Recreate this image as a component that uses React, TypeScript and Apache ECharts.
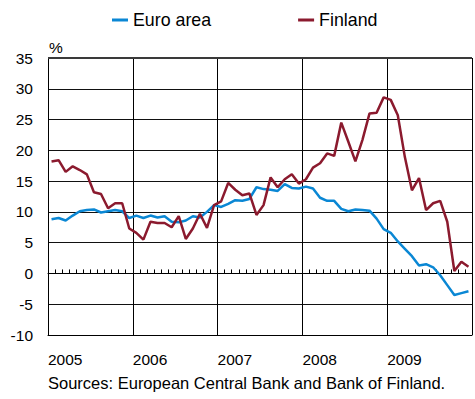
import React, { useEffect, useRef } from "react";
import * as echarts from "echarts";

const years = ["2005", "2006", "2007", "2008", "2009"];
const monthCodes = ["01", "02", "03", "04", "05", "06", "07", "08", "09", "10", "11", "12"];
const months = years.flatMap((y) => monthCodes.map((m) => `${y}-${m}`));

const euroArea = [
  8.8, 9.0, 8.6, 9.4, 10.1, 10.3, 10.4, 9.9, 10.1, 10.3, 10.1, 9.0,
  9.4, 9.0, 9.4, 9.1, 9.3, 8.4, 8.3, 8.6, 9.3, 9.1, 10.0, 11.1,
  10.8, 11.3, 11.9, 11.8, 12.1, 14.0, 13.7, 13.6, 13.4, 14.5, 13.9, 13.8,
  14.1, 13.8, 12.3, 11.8, 11.8, 10.5, 10.1, 10.4, 10.3, 10.2, 8.9, 7.2,
  6.6, 5.2, 4.0, 2.8, 1.3, 1.5, 1.0, -0.3, -1.9, -3.5, -3.2, -2.9,
];

const finland = [
  18.2, 18.4, 16.5, 17.4, 16.8, 16.1, 13.2, 12.9, 10.6, 11.4, 11.4, 7.3,
  6.6, 5.5, 8.4, 8.2, 8.2, 7.5, 9.3, 5.6, 7.3, 9.7, 7.4, 11.1,
  11.7, 14.7, 13.6, 12.7, 13.0, 9.5, 11.1, 15.6, 14.0, 15.3, 16.1, 14.6,
  15.3, 17.2, 17.9, 19.5, 19.1, 24.5, 21.4, 18.2, 21.7, 26.0, 26.1, 28.6,
  28.2, 25.7, 18.9, 13.5, 15.5, 10.3, 11.4, 11.8, 8.4, 0.4, 1.9, 1.1,
];

const yMin = -10;
const yMax = 35;
const yStep = 5;

const FONT = "'Liberation Sans', Arial, Helvetica, sans-serif";
const BLUE = "#0a87d4";
const RED = "#8b1a2e";

export default function App() {
  const ref = useRef<HTMLDivElement>(null);

  useEffect(() => {
    if (!ref.current) return;
    const chart = echarts.init(ref.current, null, { renderer: "svg" });
    chart.setOption({
      animation: false,
      textStyle: { fontFamily: FONT, color: "#000" },
      legend: {
        data: ["Euro area", "Finland"],
        left: 107,
        top: 6,
        icon: "rect",
        itemWidth: 16,
        itemHeight: 3,
        itemGap: 87,
        selectedMode: false,
        textStyle: { fontSize: 17.8, color: "#000", fontFamily: FONT },
      },
      grid: { left: 48, top: 58, width: 430, height: 277 },
      xAxis: [
        {
          type: "value",
          min: 0,
          max: years.length,
          interval: 1,
          position: "bottom",
          axisLine: { show: true, onZero: false, lineStyle: { color: "#000", width: 1 } },
          axisTick: { show: false },
          splitLine: { show: true, lineStyle: { color: "#000", width: 1 } },
          axisLabel: {
            formatter: (v: number) => years[v] ?? "",
            align: "left",
            margin: 16,
            fontSize: 15.5,
            color: "#000",
            fontFamily: FONT,
          },
        },
        {
          type: "category",
          data: months,
          boundaryGap: true,
          position: "bottom",
          axisLine: { show: true, onZero: true, lineStyle: { color: "#000", width: 1 } },
          axisTick: { show: true, inside: true, length: 4, interval: 0, lineStyle: { color: "#000" } },
          axisLabel: { show: false },
          splitLine: { show: false },
        },
      ],
      yAxis: {
        type: "value",
        min: yMin,
        max: yMax,
        interval: yStep,
        axisLine: { show: true, onZero: false, lineStyle: { color: "#000", width: 1 } },
        axisTick: { show: false },
        axisLabel: { margin: 15, fontSize: 15.5, color: "#000", fontFamily: FONT },
        splitLine: { show: true, lineStyle: { color: "#111", width: 1 } },
      },
      series: [
        {
          name: "Euro area",
          type: "line",
          xAxisIndex: 1,
          data: euroArea,
          symbol: "none",
          lineStyle: { color: BLUE, width: 2.5 },
          itemStyle: { color: BLUE },
          markLine: {
            silent: true,
            symbol: "none",
            label: { show: false },
            lineStyle: { color: "#3a3a3a", width: 2, type: "solid" },
            data: [{ yAxis: yMax }],
          },
        },
        {
          name: "Finland",
          type: "line",
          xAxisIndex: 1,
          data: finland,
          symbol: "none",
          lineStyle: { color: RED, width: 2.5 },
          itemStyle: { color: RED },
        },
      ],
      graphic: [
        {
          type: "text",
          left: 49,
          top: 39,
          style: { text: "%", fontSize: 15.5, fill: "#000", fontFamily: FONT },
        },
        {
          type: "text",
          left: 48,
          top: 374,
          style: {
            text: "Sources: European Central Bank and Bank of Finland.",
            fontSize: 16.5,
            fill: "#000",
            fontFamily: FONT,
          },
        },
      ],
    });
    return () => chart.dispose();
  }, []);

  return (
    <div
      ref={ref}
      style={{ position: "absolute", left: 0, top: 0, width: 475, height: 399 }}
    />
  );
}
